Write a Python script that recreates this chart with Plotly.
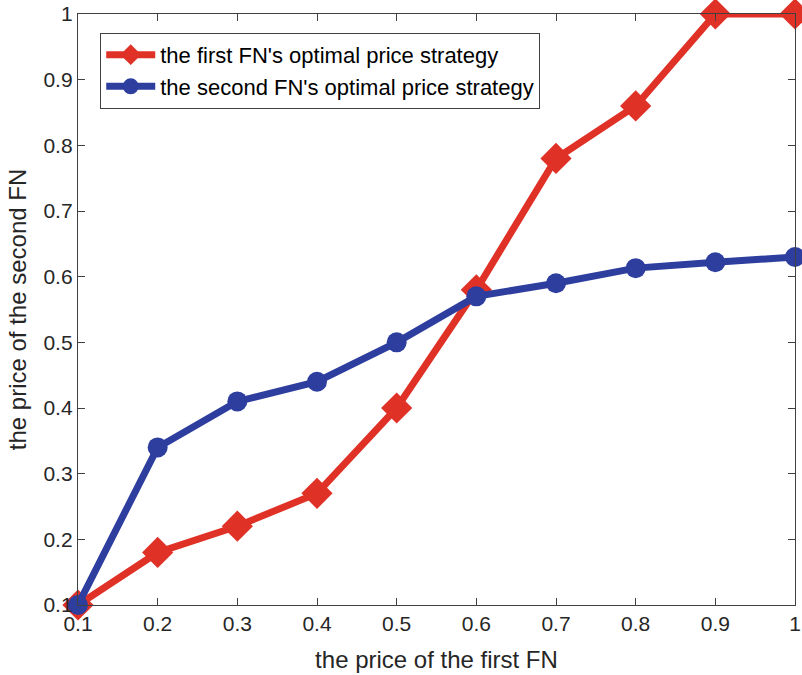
import plotly.graph_objects as go

x_vals = [0.1, 0.2, 0.3, 0.4, 0.5, 0.6, 0.7, 0.8, 0.9, 1.0]
first_fn = [0.10, 0.18, 0.22, 0.27, 0.40, 0.58, 0.78, 0.86, 1.00, 1.00]
second_fn = [0.10, 0.34, 0.41, 0.44, 0.50, 0.57, 0.59, 0.613, 0.622, 0.63]
tick_vals = [0.1, 0.2, 0.3, 0.4, 0.5, 0.6, 0.7, 0.8, 0.9, 1.0]
tick_text = ["0.1", "0.2", "0.3", "0.4", "0.5", "0.6", "0.7", "0.8", "0.9", "1"]

red = "#E03127"
blue = "#2D3E9F"

fig = go.Figure()
fig.add_trace(go.Scatter(
    x=x_vals, y=first_fn, mode="lines+markers",
    name="the first FN's optimal price strategy",
    line=dict(color=red, width=7),
    marker=dict(symbol="diamond", size=24, color=red),
    cliponaxis=False,
))
fig.add_trace(go.Scatter(
    x=x_vals, y=second_fn, mode="lines+markers",
    name="the second FN's optimal price strategy",
    line=dict(color=blue, width=7),
    marker=dict(symbol="circle", size=20, color=blue),
    cliponaxis=False,
))

axis_common = dict(
    showline=True, linecolor="#404040", linewidth=1.3, mirror="ticks",
    ticks="inside", ticklen=7, tickcolor="#404040", tickwidth=1.3,
    showgrid=False, zeroline=False, automargin=False,
    tickfont=dict(family="Liberation Sans, Arial", size=21, color="#262626"),
    tickvals=tick_vals, ticktext=tick_text,
)

fig.update_layout(
    width=802, height=675,
    paper_bgcolor="white", plot_bgcolor="white",
    margin=dict(l=78, r=7, t=14, b=70, autoexpand=False),
    font=dict(family="Liberation Sans, Arial", color="#262626"),
    xaxis=dict(range=[0.1, 1.0], title=dict(text="the price of the first FN",
               font=dict(size=24), standoff=16), **axis_common),
    yaxis=dict(range=[0.1, 1.0], title=dict(text="the price of the second FN",
               font=dict(size=24), standoff=10), **axis_common),
    legend=dict(
        x=0.031, y=0.968, xanchor="left", yanchor="top",
        bgcolor="white", bordercolor="#404040", borderwidth=1,
        font=dict(family="Liberation Sans, Arial", size=22, color="#000000"),
        tracegroupgap=0, itemwidth=49,
    ),
    showlegend=True,
)

fig.write_html("out.html", config={"displayModeBar": False},
               post_script="document.body.style.margin='0';document.body.style.overflow='hidden';")
